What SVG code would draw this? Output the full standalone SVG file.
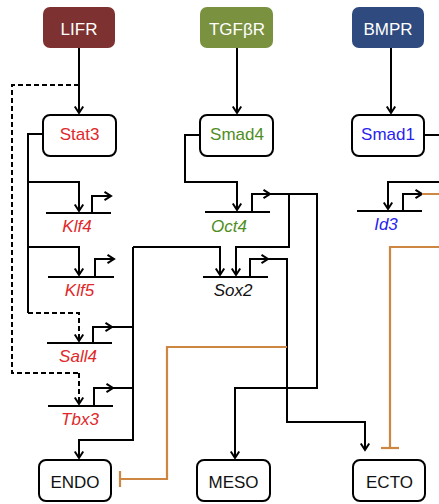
<svg xmlns="http://www.w3.org/2000/svg" width="439" height="504" viewBox="0 0 439 504">
<style>
.rec{stroke:none}
.node{fill:#fff;stroke:#000;stroke-width:2}
.t{font-family:"Liberation Sans",Arial,sans-serif;font-size:17px;text-anchor:middle}
.w{fill:#fff}
.g{font-style:italic}
.red{fill:#E0282A}
.grn{fill:#4F8E22}
.blu{fill:#2A1FF0}
.blk{fill:#111}
.c{fill:none;stroke:#000;stroke-width:2}
.d{stroke-dasharray:5 3}
.o{fill:none;stroke:#CD8742;stroke-width:2.2}
.a{marker-end:url(#ah)}
</style>
<defs>
<marker id="ah" markerUnits="userSpaceOnUse" markerWidth="12" markerHeight="12" viewBox="0 0 12 12" refX="9.5" refY="6" orient="auto">
<path d="M3,1.8 L9.5,6 L3,10.2" fill="none" stroke="#000" stroke-width="2"/>
</marker>
</defs>
<rect width="439" height="504" fill="#fff"/>
<g id="connectors">
<path class="c a" d="M79,48 V113"/>
<path class="c d" d="M79,85 H12 V373 H79"/>
<path class="c d a" d="M79,373 V404"/>
<path class="c" d="M43,134 H28 V313"/>
<path class="c a" d="M28,182 H79 V211"/>
<path class="c a" d="M28,247 H79 V275"/>
<path class="c d a" d="M28,313 H79 V341"/>
<path class="c" d="M46,213 H111"/>
<path class="c a" d="M92,213 V196 H111"/>
<path class="c" d="M48,277 H114"/>
<path class="c a" d="M95,277 V259 H114"/>
<path class="c" d="M47,343 H112"/>
<path class="c a" d="M93,343 V327 H112"/>
<path class="c" d="M112,327 H133"/>
<path class="c" d="M48,406 H113"/>
<path class="c a" d="M94,406 V388 H113"/>
<path class="c" d="M113,388 H133"/>
<path class="c a" d="M133,247 V440 H79 V458"/>
<path class="c a" d="M133,247 H220 V275"/>
<path class="c a" d="M237,48 V113"/>
<path class="c a" d="M200,135 H185 V182 H237 V210"/>
<path class="c" d="M205,212 H270"/>
<path class="c a" d="M252,212 V194 H270"/>
<path class="c a" d="M270,194 H317 V388 H235 V458"/>
<path class="c a" d="M289,194 V247 H236 V275"/>
<path class="c" d="M203,277 H268"/>
<path class="c a" d="M250,277 V259 H268"/>
<path class="c a" d="M268,259 H287 V422 H365 V450"/>
<path class="c a" d="M391,48 V113"/>
<path class="c a" d="M424,135 H445 V182 H388 V209"/>
<path class="c" d="M357,211 H422"/>
<path class="c a" d="M403,211 V194 H422"/>
<path class="o" d="M422,194 H445 V247 H390 V448"/>
<path class="o" d="M381,448 H399"/>
<path class="o" d="M287,347 H167 V479 H120"/>
<path class="o" d="M120,471 V487"/>
</g>
<g id="LIFR"><rect class="rec" x="43" y="7" width="72" height="41" rx="7" fill="#7D3231"/><text class="t w" x="79" y="35">LIFR</text></g>
<g id="TGFbR"><rect class="rec" x="200" y="7" width="73" height="41" rx="7" fill="#7A9140"/><text class="t w" x="237" y="35">TGFβR</text></g>
<g id="BMPR"><rect class="rec" x="352" y="7" width="72" height="41" rx="7" fill="#2E4A7E"/><text class="t w" x="388" y="35">BMPR</text></g>
<g id="Stat3"><rect class="node" x="43" y="115" width="73" height="41" rx="7"/><text class="t red" x="79.5" y="140">Stat3</text></g>
<g id="Smad4"><rect class="node" x="200" y="115" width="73" height="41" rx="7"/><text class="t grn" x="237" y="140">Smad4</text></g>
<g id="Smad1"><rect class="node" x="352" y="115" width="72" height="41" rx="7"/><text class="t blu" x="388" y="140">Smad1</text></g>
<g id="Klf4"><text class="t g red" x="77" y="232">Klf4</text></g>
<g id="Klf5"><text class="t g red" x="79.5" y="296">Klf5</text></g>
<g id="Sall4"><text class="t g red" x="78" y="362">Sall4</text></g>
<g id="Tbx3"><text class="t g red" x="80" y="425">Tbx3</text></g>
<g id="Oct4"><text class="t g grn" x="229" y="232">Oct4</text></g>
<g id="Sox2"><text class="t g blk" x="233" y="296">Sox2</text></g>
<g id="Id3"><text class="t g blu" x="386" y="230">Id3</text></g>
<g id="ENDO"><rect class="node" x="39" y="460" width="72" height="41" rx="7"/><text class="t blk" x="75" y="488">ENDO</text></g>
<g id="MESO"><rect class="node" x="197" y="460" width="73" height="41" rx="7"/><text class="t blk" x="233.5" y="488">MESO</text></g>
<g id="ECTO"><rect class="node" x="353" y="460" width="72" height="41" rx="7"/><text class="t blk" x="389.5" y="488">ECTO</text></g>
</svg>
